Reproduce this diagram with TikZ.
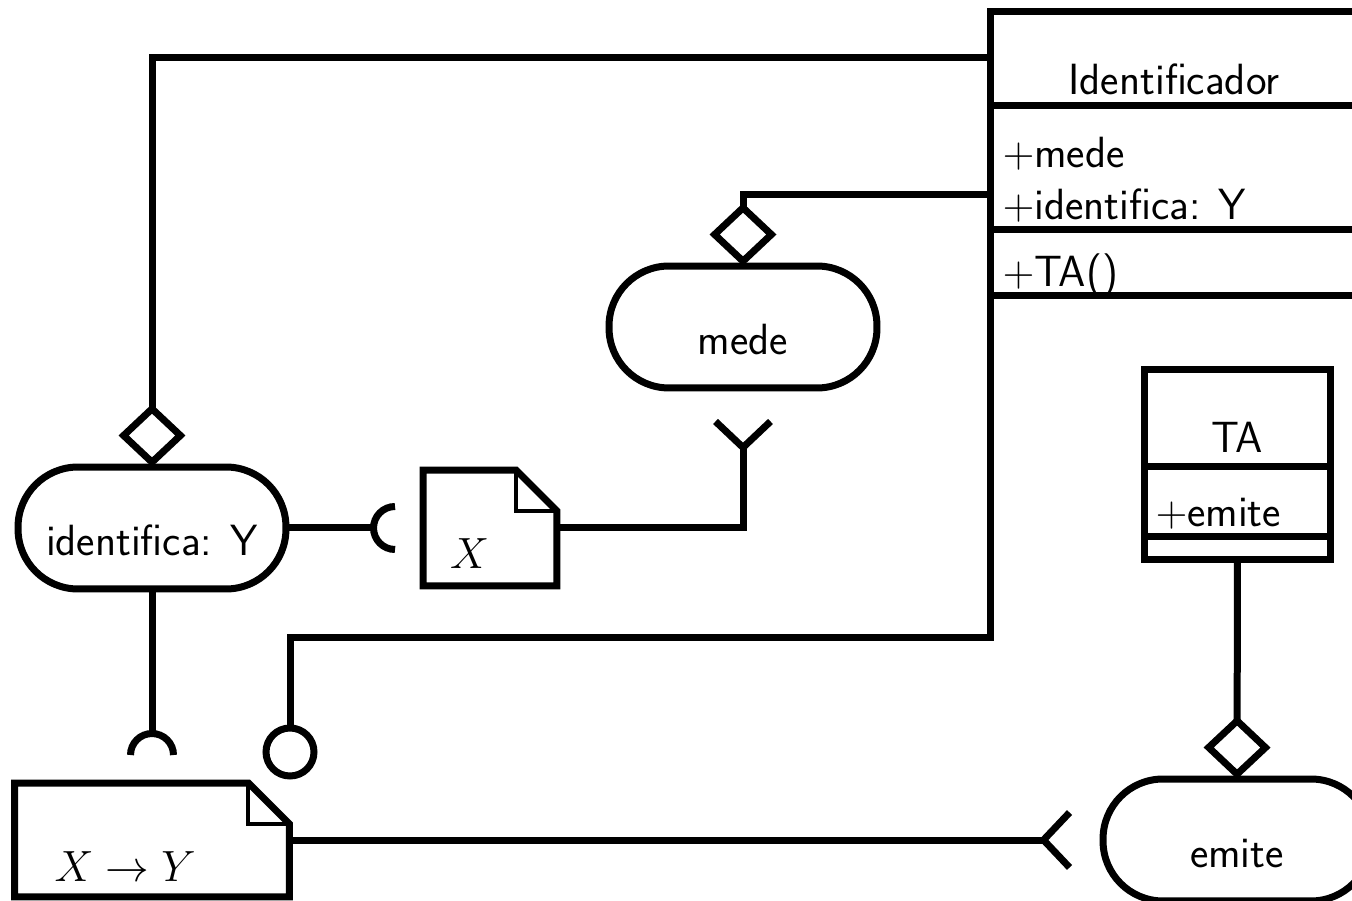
\documentclass[tikz,border=0pt]{standalone}
\usepackage{fix-cm}
\usepackage{tikz}
\usetikzlibrary{positioning,arrows.meta}

\newcommand{\dogear}[1]{%
  \draw (#1.south west) |- ([xshift=-0.82cm]#1.north east)
    -- ([yshift=-0.82cm]#1.north east) -- (#1.south east) -- cycle;
  \draw[line width=0.08cm] ([xshift=-0.82cm]#1.north east) |- ([yshift=-0.82cm]#1.north east);
}

\begin{document}
\begin{tikzpicture}[
    x=0.02cm, y=-0.02cm,
    line width=0.14cm,
    font=\fontsize{24.88}{30}\selectfont\sffamily,
    every node/.style={outer sep=0pt},
    action/.style={draw, rounded corners=1.2cm, minimum width=5.36cm, minimum height=2.44cm, text height=1.12cm, text depth=0pt, inner sep=0pt},
    doc/.style={inner sep=0pt, align=left, text height=1.98cm},
    cls/.style={draw, anchor=north west, inner sep=0pt},
    agg/.style={-{Diamond[open, length=1.26cm, width=1.34cm]}},
    fork/.style={-{Straight Barb[reversed, length=0.52cm, width=1.1cm]}, shorten >=0.6cm},
    socket/.style={-{Arc Barb[reversed, arc=180, length=0.5cm, width=1cm]}, shorten >=0.56cm}
]
\useasboundingbox (0,0) rectangle (1352,901);
\clip (0,0) rectangle (1352,901);

% classes
\node[cls, minimum width=7.36cm, minimum height=5.68cm] (idcls) at (990,12) {};
\draw (idcls.west |- 0,106) -- (idcls.east |- 0,106);
\draw (idcls.west |- 0,230) -- (idcls.east |- 0,230);
\node[anchor=base] (idname) at (1174,95) {Identificador};
\node[anchor=base west] (idmede) at (997,168) {$+$mede};
\node[anchor=base west] (idident) at (997,220) {$+$identifica: Y};
\node[anchor=base west] (idta) at (997,287) {$+$TA()};

\node[cls, minimum width=3.74cm, minimum height=3.8cm] (tacls) at (1144,370) {};
\draw (tacls.west |- 0,467) -- (tacls.east |- 0,467);
\draw (tacls.west |- 0,537) -- (tacls.east |- 0,537);
\node[anchor=base] (taname) at (1237,453) {TA};
\node[anchor=base west] (taemite) at (1150,527) {$+$emite};

% actions
\node[action] (ident) at (152,528) {identifica: Y};
\node[action] (mede) at (743,327) {mede};
\node[action] (emite) at (1237,840) {emite};

% objects
\node[doc, minimum width=2.68cm, minimum height=2.32cm, text width=1.6cm, text depth=0.34cm] (xdoc) at (490,528) {$X$};
\node[doc, minimum width=5.5cm, minimum height=2.28cm, text width=3.9cm, text depth=0.3cm] (xydoc) at (152,840) {$X\rightarrow Y$};
\dogear{xdoc}
\dogear{xydoc}
\node[draw, circle, minimum size=0.96cm, inner sep=0pt] (ball) at (290,752) {};

% connectors
\draw[agg] ([yshift=-0.92cm]idcls.north west) -| (ident.north);
\draw[agg] ([yshift=-3.66cm]idcls.north west) -| (mede.north);
\draw[agg] (tacls.south) -- (emite.north);
\draw[socket] (ident.east) -- (xdoc.west);
\draw[socket] (ident.south) -- (xydoc.north);
\draw[fork] (xdoc.east) -| (mede.south);
\draw[fork] (xydoc.east) -- (emite.west);
\draw (idcls.south west) -- ++(0,342) -| (ball.north);
\end{tikzpicture}
\end{document}
